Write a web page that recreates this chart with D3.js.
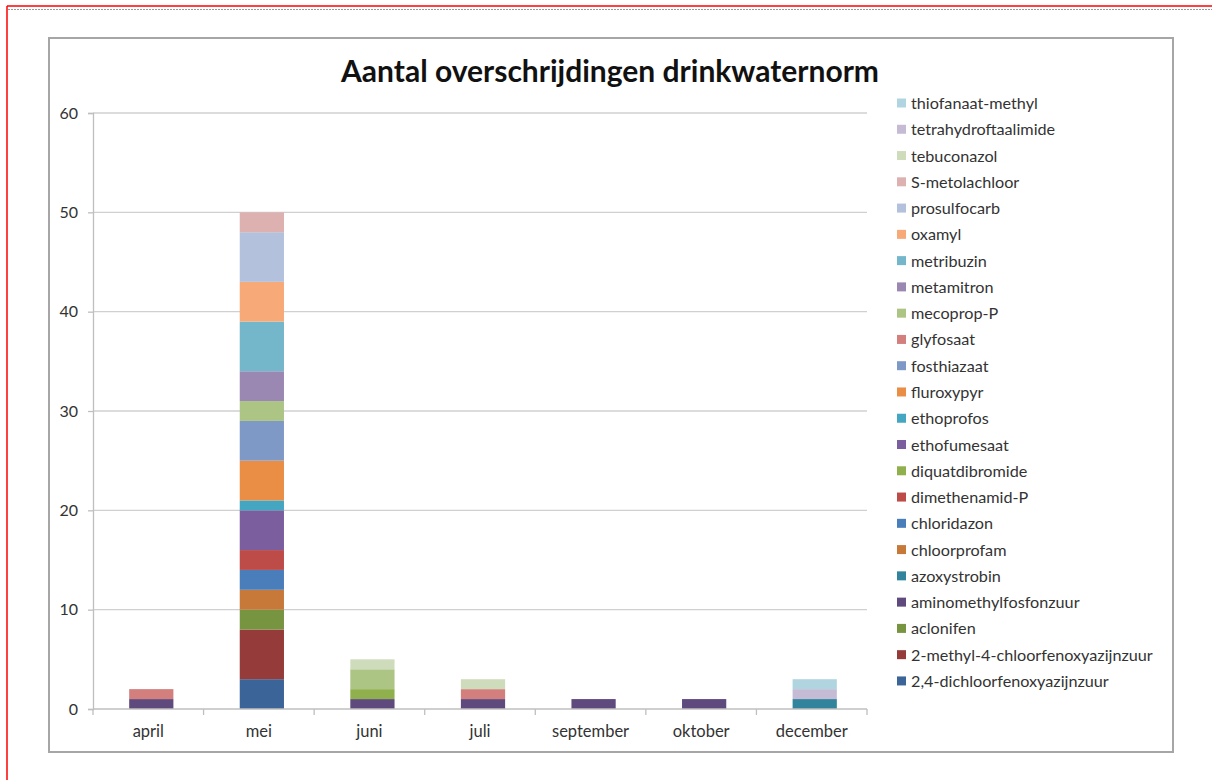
<!DOCTYPE html>
<html>
<head>
<meta charset="utf-8">
<script src="https://cdn.jsdelivr.net/npm/d3@7"></script>
<style>
  body { margin: 0; background: #fff; }
  text { font-family: Lato, "Open Sans", sans-serif; fill: #222; }
</style>
</head>
<body>
<svg id="chart" width="1212" height="780"></svg>
<script>
// months on the x axis
var months = ["april", "mei", "juni", "juli", "september", "oktober", "december"];

// substances, bottom of the stack first
var substances = [
  "2,4-dichloorfenoxyazijnzuur", "2-methyl-4-chloorfenoxyazijnzuur", "aclonifen",
  "aminomethylfosfonzuur", "azoxystrobin", "chloorprofam", "chloridazon",
  "dimethenamid-P", "diquatdibromide", "ethofumesaat", "ethoprofos", "fluroxypyr",
  "fosthiazaat", "glyfosaat", "mecoprop-P", "metamitron", "metribuzin", "oxamyl",
  "prosulfocarb", "S-metolachloor", "tebuconazol", "tetrahydroftaalimide", "thiofanaat-methyl"
];

var colors = [
  "#3b6499", "#953b39", "#779441", "#5f4a7e", "#31849b", "#c7793a", "#4a7ebb",
  "#bd4b48", "#8fb04d", "#7b5e9e", "#44a6c0", "#e98e44", "#7f99c7", "#d27f7d",
  "#acc585", "#9a88b3", "#74b6ca", "#f7a978", "#b3c1dc", "#dcb1b0", "#cfdcbc",
  "#c5bbd5", "#b0d5e0"
];

// counts per substance, in month order
var counts = [
  [0, 3, 0, 0, 0, 0, 0],  // 2,4-D
  [0, 5, 0, 0, 0, 0, 0],  // MCPA
  [0, 2, 0, 0, 0, 0, 0],  // aclonifen
  [1, 0, 1, 1, 1, 1, 0],  // aminomethylfosfonzuur
  [0, 0, 0, 0, 0, 0, 1],  // azoxystrobin
  [0, 2, 0, 0, 0, 0, 0],  // chloorprofam
  [0, 2, 0, 0, 0, 0, 0],  // chloridazon
  [0, 2, 0, 0, 0, 0, 0],  // dimethenamid-P
  [0, 0, 1, 0, 0, 0, 0],  // diquatdibromide
  [0, 4, 0, 0, 0, 0, 0],  // ethofumesaat
  [0, 1, 0, 0, 0, 0, 0],  // ethoprofos
  [0, 4, 0, 0, 0, 0, 0],  // fluroxypyr
  [0, 4, 0, 0, 0, 0, 0],  // fosthiazaat
  [1, 0, 0, 1, 0, 0, 0],  // glyfosaat
  [0, 2, 2, 0, 0, 0, 0],  // mecoprop-P
  [0, 3, 0, 0, 0, 0, 0],  // metamitron
  [0, 5, 0, 0, 0, 0, 0],  // metribuzin
  [0, 4, 0, 0, 0, 0, 0],  // oxamyl
  [0, 5, 0, 0, 0, 0, 0],  // prosulfocarb
  [0, 2, 0, 0, 0, 0, 0],  // S-metolachloor
  [0, 0, 1, 1, 0, 0, 0],  // tebuconazol
  [0, 0, 0, 0, 0, 0, 1],  // tetrahydroftaalimide
  [0, 0, 0, 0, 0, 0, 1]   // thiofanaat-methyl
];

var yTicks = [0, 10, 20, 30, 40, 50, 60];

var svg = d3.select("#chart");

// page border lines
svg.append("line").attr("x1", 7).attr("x2", 1212).attr("y1", 6).attr("y2", 6)
  .style("stroke", "#ff0000").style("stroke-width", 1.5);
svg.append("line").attr("x1", 7).attr("x2", 7).attr("y1", 6).attr("y2", 780)
  .style("stroke", "#ff0000").style("stroke-width", 1.5);
svg.append("line").attr("x1", 8).attr("x2", 1212).attr("y1", 9.5).attr("y2", 9.5)
  .style("stroke", "#999").style("stroke-width", 1).style("stroke-dasharray", "2,1");

// chart frame
svg.append("rect").attr("x", 49).attr("y", 38).attr("width", 1124).attr("height", 714)
  .attr("fill", "#fff").style("stroke", "#a6a6a6").style("stroke-width", 2);

var margin = { left: 93, top: 113, right: 867, bottom: 709 };

var x = d3.scaleBand().domain(months).range([margin.left + 3, margin.right + 3]).paddingInner(0.6).paddingOuter(0.3);
var xEdge = d3.scaleLinear().domain([0, months.length]).range([margin.left, margin.right]);
var y = d3.scaleLinear().domain([0, 60]).range([margin.bottom, margin.top]);

// gridlines
svg.append("g").selectAll("line").data(yTicks.slice(1)).enter().append("line")
  .attr("x1", margin.left).attr("x2", margin.right)
  .attr("y1", d => y(d)).attr("y2", d => y(d))
  .style("stroke", "#d0d0d0").style("stroke-width", 1.3);

// y axis
var yAxis = svg.append("g").attr("transform", "translate(" + margin.left + ",0)")
  .call(d3.axisLeft(y).tickValues(yTicks).tickSize(5).tickPadding(10));
yAxis.select(".domain").style("stroke", "#bfbfbf").style("stroke-width", 1.3);
yAxis.selectAll(".tick line").style("stroke", "#bfbfbf").style("stroke-width", 1.3);
yAxis.selectAll("text").style("font-size", "16px").style("fill", "#333").style("font-family", "Lato, sans-serif");

// stacked bars
var table = months.map(function(m, i) {
  var row = { month: m };
  substances.forEach(function(s, j) { row[s] = counts[j][i]; });
  return row;
});
var stack = d3.stack().keys(substances)(table);

svg.append("g").selectAll("g").data(stack).enter().append("g")
  .attr("fill", (d, i) => colors[i])
  .selectAll("rect").data(d => d).enter().append("rect")
  .filter(d => d[1] > d[0])
  .attr("x", d => x(d.data.month))
  .attr("width", x.bandwidth())
  .attr("y", d => y(d[1]))
  .attr("height", d => y(d[0]) - y(d[1]));

// x axis
var xg = svg.append("g");
xg.append("line").attr("x1", margin.left).attr("x2", margin.right)
  .attr("y1", margin.bottom).attr("y2", margin.bottom)
  .style("stroke", "#bfbfbf").style("stroke-width", 1.3);
xg.selectAll(".xt").data(d3.range(months.length + 1)).enter().append("line")
  .attr("x1", d => xEdge(d)).attr("x2", d => xEdge(d))
  .attr("y1", margin.bottom).attr("y2", margin.bottom + 6)
  .style("stroke", "#bfbfbf").style("stroke-width", 1.3);
xg.selectAll(".xl").data(months).enter().append("text")
  .attr("x", (d, i) => (xEdge(i) + xEdge(i + 1)) / 2)
  .attr("y", 737)
  .attr("text-anchor", "middle")
  .style("font-size", "16.5px")
  .style("fill", "#333")
  .text(d => d);

// title
svg.append("text").attr("x", 610).attr("y", 82).attr("text-anchor", "middle")
  .style("font-size", "30px").style("font-weight", "bold").style("fill", "#111")
  .text("Aantal overschrijdingen drinkwaternorm");

// legend, top entry is the last series
var legendRows = substances.slice().reverse();
var legend = svg.append("g").attr("transform", "translate(897,103)");
var items = legend.selectAll("g").data(legendRows).enter().append("g")
  .attr("transform", (d, i) => "translate(0," + (i * 26.27) + ")");
items.append("rect").attr("x", 0).attr("y", -4.5).attr("width", 9).attr("height", 9)
  .attr("fill", d => colors[substances.indexOf(d)]);
items.append("text").attr("x", 14).attr("y", 6)
  .style("font-size", "16.2px").style("fill", "#333")
  .text(d => d);
</script>
</body>
</html>
